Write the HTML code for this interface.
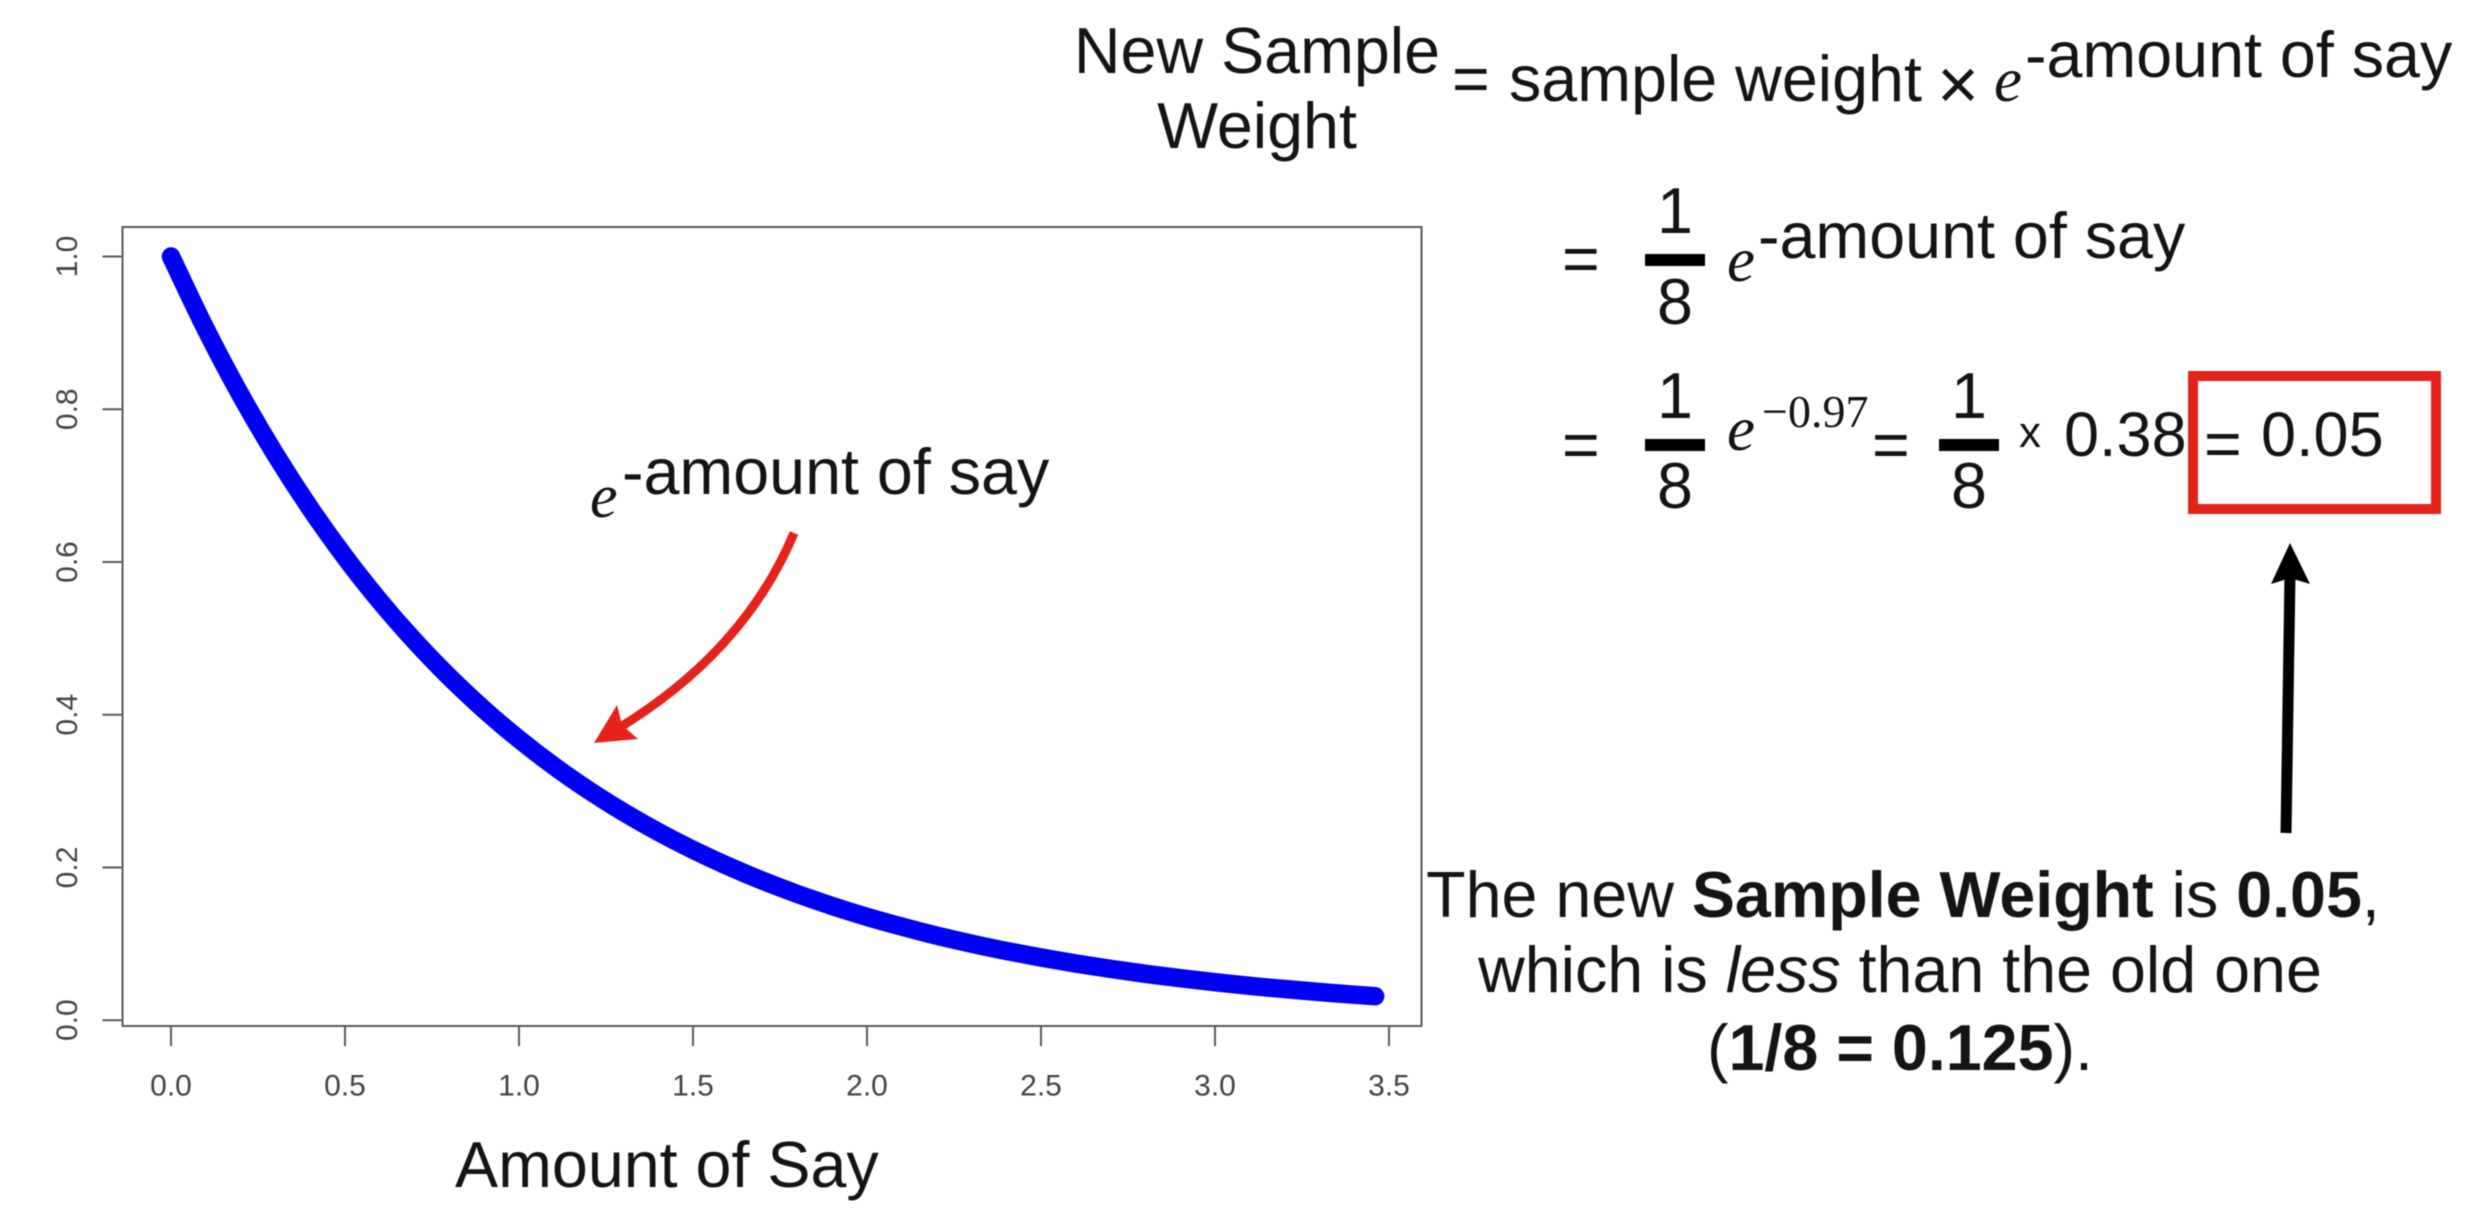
<!DOCTYPE html>
<html lang="en">
<head>
<meta charset="utf-8">
<title>New Sample Weight</title>
<style>
  html, body { margin: 0; padding: 0; background: #fff; }
  body { width: 2477px; height: 1217px; overflow: hidden; }
  svg { display: block; filter: blur(0.6px); }
  text { font-family: "Liberation Sans", sans-serif; fill: #141414; }
  .big { font-size: 64.6px; }
  .serif { font-family: "Liberation Serif", serif; font-style: italic; }
  .tick { font-size: 30px; fill: #444; }
</style>
</head>
<body>
<svg id="canvas" xmlns="http://www.w3.org/2000/svg" width="2477" height="1217" viewBox="0 0 2477 1217">
  <rect width="2477" height="1217" fill="#fff"/>

  <g id="chart"></g>

  <text class="big" x="455" y="1187">Amount of Say</text>

  <text class="serif" x="590" y="517" font-size="62">e</text>
  <text class="big" x="622" y="494">-amount of say</text>
  <g>
    <path d="M794 533 Q745 650 622 726" fill="none" stroke="#e5231b" stroke-width="9"/>
    <polygon points="594,743 617,705 622,725 638,739" fill="#e5231b"/>
  </g>

  <g>
    <text class="big" x="1257" y="73" text-anchor="middle">New Sample</text>
    <text class="big" x="1257" y="148" text-anchor="middle">Weight</text>
    <text class="big" x="1452" y="101">=</text>
    <text class="big" x="1509" y="101">sample weight</text>
    <text x="1958" y="109" font-size="72" text-anchor="middle">×</text>
    <text class="serif" x="1994" y="101" font-size="63">e</text>
    <text class="big" x="2025" y="77">-amount of say</text>
  </g>

  <g>
    <text class="big" x="1562" y="281">=</text>
    <text class="big" x="1675" y="233" text-anchor="middle">1</text>
    <rect x="1645" y="254" width="60" height="12" fill="#000"/>
    <text class="big" x="1675" y="324" text-anchor="middle">8</text>
    <text class="serif" x="1727" y="281" font-size="63">e</text>
    <text class="big" x="1758" y="258">-amount of say</text>
  </g>

  <g>
    <text class="big" x="1562" y="467">=</text>
    <text class="big" x="1675" y="418" text-anchor="middle">1</text>
    <rect x="1645" y="439" width="60" height="12" fill="#000"/>
    <text class="big" x="1675" y="508" text-anchor="middle">8</text>
    <text class="serif" x="1727" y="450" font-size="63">e</text>
    <text x="1762" y="427" font-size="46" style="font-family:'Liberation Serif',serif">−0.97</text>
    <text class="big" x="1872" y="467">=</text>
    <text class="big" x="1969" y="418" text-anchor="middle">1</text>
    <rect x="1939" y="439" width="60" height="12" fill="#000"/>
    <text class="big" x="1969" y="508" text-anchor="middle">8</text>
    <text x="2019" y="447" font-size="44">x</text>
    <text class="big" x="2064" y="456" style="font-size:63px">0.38</text>
    <text class="big" x="2204" y="466">=</text>
    <text class="big" x="2261" y="456" style="font-size:63px">0.05</text>
    <rect x="2193" y="376" width="243" height="133" fill="none" stroke="#e5231b" stroke-width="10"/>
  </g>

  <g>
    <line x1="2286" y1="833" x2="2290" y2="575" stroke="#000" stroke-width="11"/>
    <polygon points="2290,543 2310,584 2290,578 2271,584" fill="#000"/>
  </g>

  <g>
    <text class="big" x="1903" y="917" text-anchor="middle">The new <tspan font-weight="bold">Sample Weight</tspan> is <tspan font-weight="bold">0.05</tspan>,</text>
    <text class="big" x="1900" y="992" text-anchor="middle">which is <tspan font-style="italic">less</tspan> than the old one</text>
    <text class="big" x="1900" y="1070" text-anchor="middle">(<tspan font-weight="bold">1/8 = 0.125</tspan>).</text>
  </g>
</svg>

<script>
const amountOfSay = [0, 0.1, 0.2, 0.3, 0.4, 0.5, 0.6, 0.7, 0.8, 0.9, 1.0, 1.1, 1.2, 1.3, 1.4, 1.5, 1.6, 1.7, 1.8, 1.9, 2.0, 2.1, 2.2, 2.3, 2.4, 2.5, 2.6, 2.7, 2.8, 2.9, 3.0, 3.1, 3.2, 3.3, 3.4, 3.46];
const weightFactor = [1, 0.9048, 0.8187, 0.7408, 0.6703, 0.6065, 0.5488, 0.4966, 0.4493, 0.4066, 0.3679, 0.3329, 0.3012, 0.2725, 0.2466, 0.2231, 0.2019, 0.1827, 0.1653, 0.1496, 0.1353, 0.1225, 0.1108, 0.1003, 0.0907, 0.0821, 0.0743, 0.0672, 0.0608, 0.055, 0.0498, 0.045, 0.0408, 0.0369, 0.0334, 0.0314];
const xTickValues = [0, 0.5, 1, 1.5, 2, 2.5, 3, 3.5];
const xTickLabels = ["0.0", "0.5", "1.0", "1.5", "2.0", "2.5", "3.0", "3.5"];
const yTickValues = [0, 0.2, 0.4, 0.6, 0.8, 1];
const yTickLabels = ["0.0", "0.2", "0.4", "0.6", "0.8", "1.0"];

const NS = 'http://www.w3.org/2000/svg';
const chart = document.getElementById('chart');
const plot = { left: 122.5, right: 1421.5, top: 227, bottom: 1026 };
const xScale = v => 171 + v * 348;
const yScale = v => 1020.2 - v * 763.7;

function make(tag, attrs, parent) {
  const el = document.createElementNS(NS, tag);
  for (const k in attrs) el.setAttribute(k, attrs[k]);
  parent.appendChild(el);
  return el;
}

const frame = make('rect', { x: plot.left, y: plot.top, width: plot.right - plot.left, height: plot.bottom - plot.top, fill: 'none', stroke: '#5a5a5a', 'stroke-width': 2 }, chart);



xTickValues.forEach((v, i) => {
  const tick = make('line', { x1: xScale(v), x2: xScale(v), y1: plot.bottom, y2: plot.bottom + 20, stroke: '#5a5a5a', 'stroke-width': 2 }, chart);
  
  
  const label = make('text', { x: xScale(v), y: 1095.5, 'text-anchor': 'middle', class: 'tick' }, chart);
  
  
  label.textContent = xTickLabels[i];
});

yTickValues.forEach((v, i) => {
  const tick = make('line', { x1: plot.left - 20, x2: plot.left, y1: yScale(v), y2: yScale(v), stroke: '#5a5a5a', 'stroke-width': 2 }, chart);
  
  
  const label = make('text', { x: 77, y: yScale(v), 'text-anchor': 'middle', class: 'tick', transform: 'rotate(-90 77 ' + yScale(v) + ')' }, chart);
  
  
  label.textContent = yTickLabels[i];
});

// Smooth curve through the data points (Catmull-Rom converted to cubic Bezier).
const pts = amountOfSay.map((x, i) => [xScale(x), yScale(weightFactor[i])]);
let curvePath = 'M' + pts[0][0].toFixed(1) + ' ' + pts[0][1].toFixed(1);
for (let i = 0; i < pts.length - 1; i++) {
  const p0 = pts[Math.max(i - 1, 0)];
  const p1 = pts[i];
  const p2 = pts[i + 1];
  const p3 = pts[Math.min(i + 2, pts.length - 1)];
  const c1x = p1[0] + (p2[0] - p0[0]) / 6;
  const c1y = p1[1] + (p2[1] - p0[1]) / 6;
  const c2x = p2[0] - (p3[0] - p1[0]) / 6;
  const c2y = p2[1] - (p3[1] - p1[1]) / 6;
  curvePath += ' C' + c1x.toFixed(1) + ' ' + c1y.toFixed(1) + ' ' + c2x.toFixed(1) + ' ' + c2y.toFixed(1) + ' ' + p2[0].toFixed(1) + ' ' + p2[1].toFixed(1);
}
const curve = make('path', { d: curvePath, fill: 'none', stroke: '#0000f5', 'stroke-width': 18.5, 'stroke-linecap': 'round', 'stroke-linejoin': 'round' }, chart);


</script>
</body>
</html>
